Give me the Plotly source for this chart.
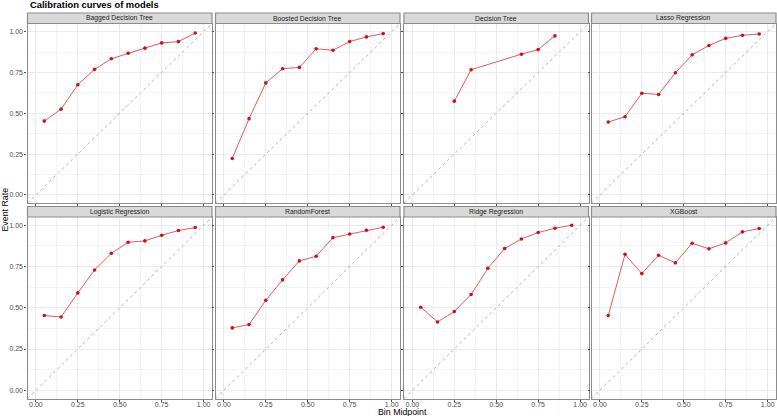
import plotly.graph_objects as go

# Calibration data: bin midpoints and observed event rates per model
models = ["Bagged Decision Tree", "Boosted Decision Tree", "Decision Tree", "Lasso Regression",
          "Logistic Regression", "RandomForest", "Ridge Regression", "XGBoost"]

bin_mid = [0.05, 0.15, 0.25, 0.35, 0.45, 0.55, 0.65, 0.75, 0.85, 0.95]
dt_mid = [0.25, 0.35, 0.65, 0.75, 0.85]

bagged = [0.452, 0.525, 0.675, 0.769, 0.834, 0.868, 0.899, 0.931, 0.939, 0.992]
boosted = [0.223, 0.467, 0.686, 0.773, 0.781, 0.895, 0.886, 0.939, 0.968, 0.988]
dtree = [0.574, 0.767, 0.862, 0.890, 0.974]
lasso = [0.446, 0.479, 0.623, 0.615, 0.748, 0.858, 0.915, 0.959, 0.978, 0.986]
logistic = [0.453, 0.444, 0.590, 0.729, 0.830, 0.897, 0.905, 0.939, 0.968, 0.986]
rforest = [0.378, 0.398, 0.545, 0.669, 0.784, 0.812, 0.925, 0.947, 0.970, 0.988]
ridge = [0.503, 0.414, 0.477, 0.580, 0.739, 0.859, 0.917, 0.956, 0.982, 1.000]
xgb = [0.453, 0.824, 0.707, 0.818, 0.772, 0.891, 0.857, 0.893, 0.960, 0.980]

series = [(bin_mid, bagged), (bin_mid, boosted), (dt_mid, dtree), (bin_mid, lasso),
          (bin_mid, logistic), (bin_mid, rforest), (bin_mid, ridge), (bin_mid, xgb)]

tick_vals = [0, 0.25, 0.5, 0.75, 1.0]
tick_text = ["0.00", "0.25", "0.50", "0.75", "1.00"]
ref_line = [-0.05, 1.05]

W, H = 777, 416
FONT = "Liberation Sans, Arial, sans-serif"

# panel geometry in pixels
col_x = [(27.5, 212), (215.5, 400), (404, 588.5), (591.5, 776)]
row_y = [(23.5, 203), (217, 398.5)]
strip_h = 10.5

def px(x):
    return x / W

def py(y):
    return 1 - y / H

fig = go.Figure()
shapes = []
annotations = []

for i, name in enumerate(models):
    r, c = divmod(i, 4)
    n = i + 1
    xa = "x" if n == 1 else f"x{n}"
    ya = "y" if n == 1 else f"y{n}"
    xs, ys = series[i]

    fig.add_trace(go.Scatter(x=ref_line, y=ref_line, mode="lines", xaxis=xa, yaxis=ya,
                             line=dict(color="#B3B3B3", width=1, dash="dot"),
                             showlegend=False, hoverinfo="skip"))
    fig.add_trace(go.Scatter(x=xs, y=ys, mode="lines+markers", xaxis=xa, yaxis=ya,
                             line=dict(color="#E8585A", width=1),
                             marker=dict(color="#CC1111", size=3.6),
                             showlegend=False, name=name))

    x0, x1 = col_x[c]
    y0, y1 = row_y[r]
    common = dict(range=[-0.05, 1.05], tickvals=tick_vals, ticktext=tick_text,
                  showgrid=True, gridcolor="#EBEBEB", gridwidth=1,
                  minor=dict(dtick=0.125, tick0=0.125, showgrid=True, gridcolor="#F4F4F4", gridwidth=0.6),
                  zeroline=False, showline=True, mirror=True, linecolor="#8C8C8C", linewidth=1.2,
                  ticks="outside", ticklen=2, tickcolor="#4D4D4D", tickwidth=0.8,
                  tickfont=dict(family=FONT, size=7, color="#4D4D4D"), fixedrange=True)
    fig.layout[xa.replace("x", "xaxis")] = dict(common, domain=[px(x0), px(x1)], anchor=ya,
                                              showticklabels=(r == 1), ticklabelstandoff=-3)
    fig.layout[ya.replace("y", "yaxis")] = dict(common, domain=[py(y1), py(y0)], anchor=xa,
                                              showticklabels=(c == 0))

    # facet strip
    shapes.append(dict(type="rect", xref="paper", yref="paper",
                       x0=px(x0), x1=px(x1), y0=py(y0), y1=py(y0 - strip_h),
                       fillcolor="#D9D9D9", line=dict(color="#8C8C8C", width=1.2)))
    annotations.append(dict(text=name, xref="paper", yref="paper", x=px((x0 + x1) / 2),
                            y=py(y0 - strip_h / 2), showarrow=False,
                            font=dict(family=FONT, size=6.8, color="#1A1A1A"),
                            xanchor="center", yanchor="middle"))

annotations.append(dict(text="<b>Calibration curves of models</b>", xref="paper", yref="paper",
                        x=px(27.5), y=py(4.5), showarrow=False, xanchor="left", yanchor="middle",
                        font=dict(family=FONT, size=9.4, color="#000000")))
annotations.append(dict(text="Bin Midpoint", xref="paper", yref="paper",
                        x=px(402), y=py(411.8), showarrow=False, xanchor="center", yanchor="middle",
                        font=dict(family=FONT, size=8.8, color="#000000")))
annotations.append(dict(text="Event Rate", xref="paper", yref="paper", textangle=-90,
                        x=px(4.5), y=py(210), showarrow=False, xanchor="center", yanchor="middle",
                        font=dict(family=FONT, size=8.8, color="#000000")))

fig.update_layout(width=W, height=H, margin=dict(l=0, r=0, t=0, b=0),
                  paper_bgcolor="white", plot_bgcolor="white",
                  shapes=shapes, annotations=annotations, showlegend=False)

fig.write_html("out.html", config={"displayModeBar": False},
               post_script="document.body.style.margin='0';document.body.style.overflow='hidden';")
